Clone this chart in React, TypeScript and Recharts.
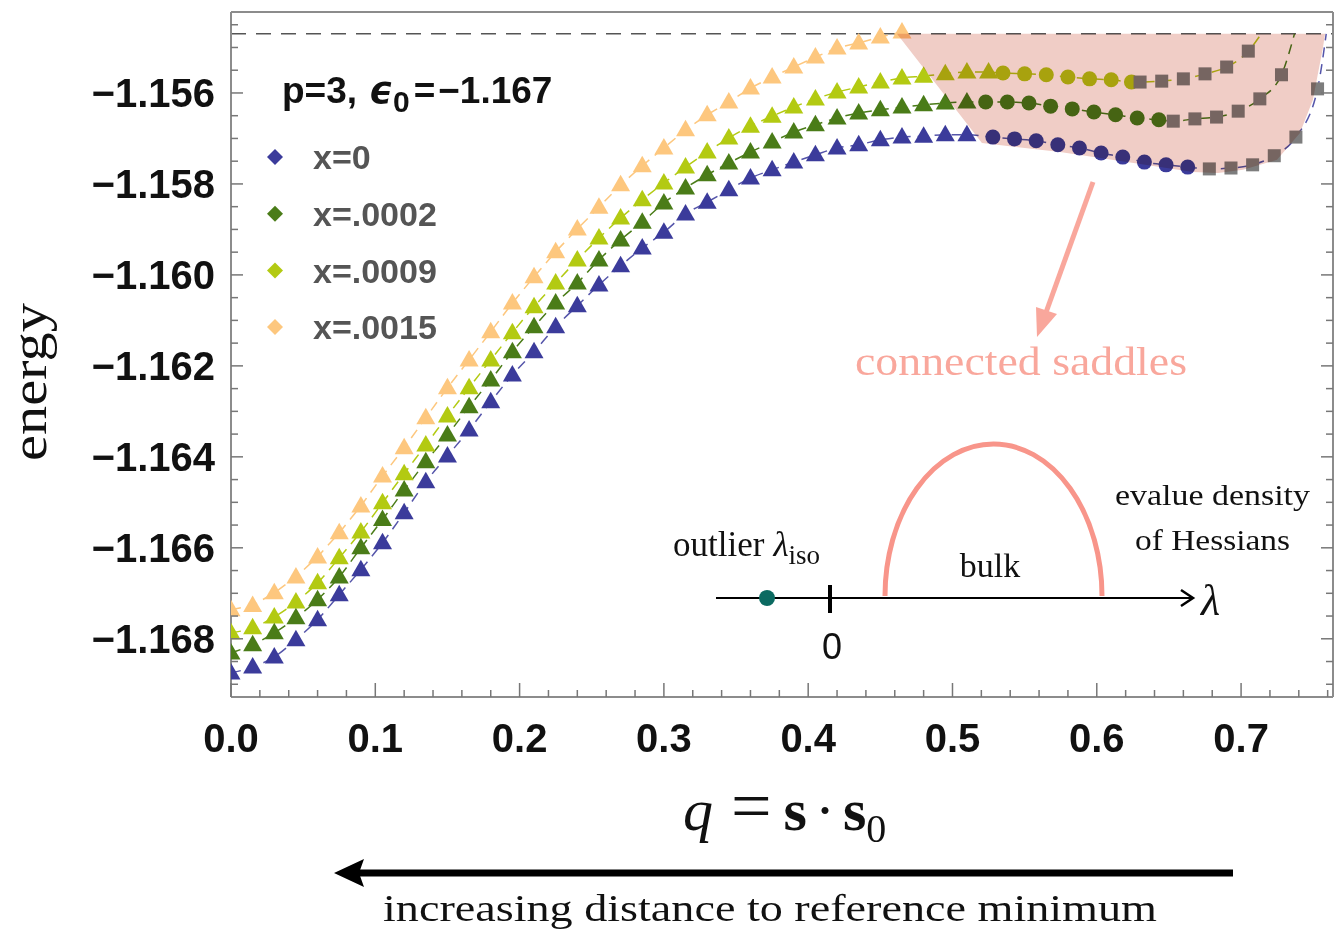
import React from 'react';
import { ComposedChart, Line, Scatter, Area, XAxis, YAxis, ReferenceLine } from 'recharts';

const W = 1335;
const H = 929;
// plot frame, page pixels
const PL = 231;
const PR = 1333;
const PT = 12;
const PB = 697;

const SANS = '"Liberation Sans", Arial, sans-serif';
const SERIF = '"Liberation Serif", "DejaVu Serif", serif';

const BLUE = '#3b3b9b';
const GREEN = '#4a7c18';
const LIME = '#b3ca12';
const ORANGE = '#fdc77e';
const GREY = '#7d7d7d';
const SHADE = '#f0cdc6';
const PINK = '#f9a79c';

const threshold = -1.1547;

// q of the triangle markers, shared by the four curves
const qGrid = [0, 0.015, 0.03, 0.045, 0.06, 0.075, 0.09, 0.105, 0.12, 0.135, 0.15, 0.165, 0.18, 0.195,
  0.21, 0.225, 0.24, 0.255, 0.27, 0.285, 0.3, 0.315, 0.33, 0.345, 0.36, 0.375, 0.39, 0.405, 0.42,
  0.435, 0.45, 0.465, 0.48, 0.495, 0.51, 0.525];

// x=0
const blueTri = [-1.16875, -1.16862, -1.1684, -1.16802, -1.16758, -1.16703, -1.16648, -1.16589, -1.16523,
  -1.16455, -1.16398, -1.16341, -1.16279, -1.1622, -1.16169, -1.16114, -1.16068, -1.16022, -1.1598,
  -1.15941, -1.15906, -1.15866, -1.1584, -1.15813, -1.15787, -1.15769, -1.15752, -1.15736, -1.15721,
  -1.15714, -1.15703, -1.15697, -1.15695, -1.15692, -1.15692];
const blueCircQ = [0.528, 0.543, 0.558, 0.573, 0.588, 0.603, 0.618, 0.633, 0.648, 0.663];
const blueCirc = [-1.15697, -1.15701, -1.15705, -1.15714, -1.15721, -1.15732, -1.15741, -1.15752, -1.15758, -1.15763];
const blueSqQ = [0.678, 0.693, 0.708, 0.723, 0.738, 0.753];
const blueSq = [-1.15767, -1.15765, -1.15758, -1.15738, -1.15697, -1.15591];
const blueEnd = { q: 0.759, e: -1.1547 };

// x=.0002
const greenTri = [-1.16831, -1.16813, -1.16787, -1.16754, -1.16714, -1.16664, -1.166, -1.16538, -1.16473,
  -1.16411, -1.16352, -1.1629, -1.16231, -1.16169, -1.16114, -1.16062, -1.16018, -1.15967, -1.15923,
  -1.15884, -1.15842, -1.15809, -1.1578, -1.15754, -1.1573, -1.15708, -1.15686, -1.1567, -1.15655,
  -1.15644, -1.15637, -1.15631, -1.15626, -1.15622, -1.1562];
const greenCircQ = [0.523, 0.538, 0.553, 0.568, 0.583, 0.598, 0.613, 0.628, 0.643];
const greenCirc = [-1.1562, -1.1562, -1.15622, -1.15629, -1.15635, -1.15642, -1.15648, -1.15655, -1.15659];
const greenSqQ = [0.653, 0.668, 0.683, 0.698, 0.713, 0.728];
const greenSq = [-1.15662, -1.15657, -1.15653, -1.1564, -1.15613, -1.1556];
const greenEnd = { q: 0.737, e: -1.1547 };

// x=.0009
const limeTri = [-1.16787, -1.16776, -1.16752, -1.16719, -1.16677, -1.16622, -1.16565, -1.16501, -1.16437,
  -1.16374, -1.1631, -1.16248, -1.16187, -1.16127, -1.1607, -1.16018, -1.15967, -1.15919, -1.15875,
  -1.15835, -1.15798, -1.15763, -1.1573, -1.15699, -1.15673, -1.15651, -1.15631, -1.15613, -1.15598,
  -1.15587, -1.15576, -1.15567, -1.15563, -1.15558, -1.15554, -1.15554];
const limeCircQ = [0.535, 0.55, 0.565, 0.58, 0.595, 0.61, 0.624];
const limeCirc = [-1.15556, -1.15558, -1.1556, -1.15565, -1.15569, -1.15571, -1.15576];
const limeSqQ = [0.63, 0.645, 0.66, 0.675, 0.69, 0.705];
const limeSq = [-1.15576, -1.15574, -1.15569, -1.15558, -1.15543, -1.15508];
const limeEnd = { q: 0.714, e: -1.1547 };

// x=.0015
const orangeTri = [-1.16736, -1.16727, -1.16699, -1.16664, -1.1662, -1.16567, -1.16508, -1.16442, -1.1638,
  -1.16314, -1.16248, -1.16187, -1.16125, -1.16062, -1.16004, -1.15949, -1.15899, -1.15851, -1.15802,
  -1.1576, -1.15721, -1.15681, -1.15648, -1.1562, -1.15589, -1.15565, -1.15543, -1.15521, -1.15501,
  -1.1549, -1.15477, -1.15466];

// lower edge of the "connected saddles" region (upper edge is the threshold)
const shadeQ = [0.4615, 0.5204, 0.5745, 0.6209, 0.6667, 0.684, 0.7013, 0.7249, 0.7408, 0.7498, 0.7568, 0.7582];
const shadeLow = [-1.1547, -1.1571, -1.1573, -1.15752, -1.15774, -1.15776, -1.15769, -1.15747, -1.15688,
  -1.15615, -1.15499, -1.1547];

const legendItems = [
  { label: 'x=0', color: BLUE },
  { label: 'x=.0002', color: GREEN },
  { label: 'x=.0009', color: LIME },
  { label: 'x=.0015', color: ORANGE },
];

const yTicks = Array.from({ length: 30 }, (_, i) => +(-1.169 + 0.0005 * i).toFixed(4));
const xTicks = Array.from({ length: 39 }, (_, i) => +(0.02 * i).toFixed(2));
const xTopTicks = Array.from({ length: 16 }, (_, i) => +(0.05 * i).toFixed(2));

const pts = (qs: number[], es: number[]) => es.map((e, i) => ({ q: qs[i], e }));

const blueLine = [...pts(qGrid, blueTri), ...pts(blueCircQ, blueCirc), ...pts(blueSqQ, blueSq), blueEnd];
const greenLine = [...pts(qGrid, greenTri), ...pts(greenCircQ, greenCirc), ...pts(greenSqQ, greenSq), greenEnd];
const limeLine = [...pts(qGrid, limeTri), ...pts(limeCircQ, limeCirc), ...pts(limeSqQ, limeSq), limeEnd];
const orangeLine = pts(qGrid, orangeTri);
const shadeData = shadeQ.map((q, i) => ({ q, range: [shadeLow[i], threshold] }));

const near = (v: number, step: number) => Math.abs(v / step - Math.round(v / step)) < 1e-3;

const triShape = (color: string) => (p: any) => (
  <polygon points={`${p.cx},${p.cy - 10} ${p.cx + 9.5},${p.cy + 6.5} ${p.cx - 9.5},${p.cy + 6.5}`} fill={color} />
);
const circShape = (color: string) => (p: any) => <circle cx={p.cx} cy={p.cy} r={7.5} fill={color} />;
const sqShape = (p: any) => <rect x={p.cx - 6.5} y={p.cy - 6.5} width={13} height={13} fill={GREY} />;

function LeftTick({ y, payload }: any) {
  const v = payload.value;
  const major = near(v, 0.002);
  return (
    <g>
      <line x1={PL} x2={PL + (major ? 12 : 7)} y1={y} y2={y} stroke="#777" strokeWidth={1.5} />
      {major && (
        <text x={215} y={y} dy="0.36em" textAnchor="end" fontFamily={SANS} fontWeight="bold" fontSize={40} fill="#111">
          {'\u2212' + Math.abs(v).toFixed(3)}
        </text>
      )}
    </g>
  );
}

function RightTick({ y, payload }: any) {
  const major = near(payload.value, 0.002);
  return <line x1={PR} x2={PR - (major ? 12 : 7)} y1={y} y2={y} stroke="#777" strokeWidth={1.5} />;
}

function BottomTick({ x, payload }: any) {
  const v = payload.value;
  const major = near(v, 0.1);
  return (
    <g>
      <line x1={x} x2={x} y1={PB} y2={PB - (major ? 14 : 7)} stroke="#777" strokeWidth={1.5} />
      {major && (
        <text x={x} y={752} textAnchor="middle" fontFamily={SANS} fontWeight="bold" fontSize={40} fill="#111">
          {v.toFixed(1)}
        </text>
      )}
    </g>
  );
}

function TopTick({ x }: any) {
  return <line x1={x} x2={x} y1={PT} y2={PT + 10} stroke="#777" strokeWidth={1.5} />;
}

function Annotations() {
  return (
    <svg width={W} height={H} style={{ position: 'absolute', left: 0, top: 0, pointerEvents: 'none' }}>
      {/* legend */}
      <text x={282} y={103} fontFamily={SANS} fontWeight="bold" fontSize={37} fill="#111">
        p=3,
        <tspan dx={12} fontStyle="italic" fontFamily='"DejaVu Sans", sans-serif'>ϵ</tspan>
        <tspan dy={9} fontSize={30}>0</tspan>
        <tspan dy={-9} dx={4}>=</tspan>
        <tspan dx={3}>{'\u22121.167'}</tspan>
      </text>
      {legendItems.map((it, i) => {
        const y = 157 + i * 56.7;
        return (
          <g key={it.label}>
            <polygon points={`275,${y - 8} 283,${y} 275,${y + 8} 267,${y}`} fill={it.color} />
            <text x={313} y={y} dy="0.36em" fontFamily={SANS} fontWeight="bold" fontSize={34} fill="#555">
              {it.label}
            </text>
          </g>
        );
      })}

      {/* connected saddles */}
      <line x1={1093} y1={182} x2={1044} y2={318} stroke={PINK} strokeWidth={5} />
      <polygon points="1037,337 1057,314 1036,307" fill={PINK} />
      <text x={855} y={375} fontFamily={SERIF} fontSize={40} fill={PINK} textLength={332} lengthAdjust="spacingAndGlyphs">
        connected saddles
      </text>

      {/* Hessian spectrum sketch */}
      <line x1={716} y1={598} x2={1192} y2={598} stroke="#000" strokeWidth={2} />
      <polyline points="1181,590 1193,598 1181,606" fill="none" stroke="#000" strokeWidth={2.5} />
      <circle cx={767} cy={598} r={8} fill="#0b6a61" />
      <line x1={830} y1={585} x2={830} y2={613} stroke="#000" strokeWidth={4} />
      <text x={832} y={659} textAnchor="middle" fontFamily={SANS} fontSize={36} fill="#111">0</text>
      <path d="M 885 596 A 108.5 152 0 0 1 1102 596" fill="none" stroke="#f8958a" strokeWidth={5} />
      <text x={990} y={577} textAnchor="middle" fontFamily={SERIF} fontSize={34} fill="#111">bulk</text>
      <text x={1201} y={615} fontFamily={SERIF} fontStyle="italic" fontSize={44} fill="#111">λ</text>
      <text x={673} y={556} fontFamily={SERIF} fontSize={35} fill="#111">
        outlier
        <tspan dx={9} fontStyle="italic">λ</tspan>
        <tspan dy={8} fontSize={27}>iso</tspan>
      </text>
      <text x={1115} y={505} fontFamily={SERIF} fontSize={30} fill="#111" textLength={195} lengthAdjust="spacingAndGlyphs">
        evalue density
      </text>
      <text x={1135} y={550} fontFamily={SERIF} fontSize={30} fill="#111" textLength={155} lengthAdjust="spacingAndGlyphs">
        of Hessians
      </text>

      {/* axis titles */}
      <text transform="translate(46,382) rotate(-90)" textAnchor="middle" fontFamily={SERIF} fontSize={50} fill="#111"
        textLength={158} lengthAdjust="spacingAndGlyphs">
        energy
      </text>
      <text x={683} y={830} fontFamily={SERIF} fontSize={60} fill="#111">
        <tspan fontStyle="italic">q</tspan>
        <tspan dx={18} fontSize={72}>=</tspan>
        <tspan dx={12} fontWeight="bold">s</tspan>
        <tspan dx={8}>·</tspan>
        <tspan dx={8} fontWeight="bold">s</tspan>
        <tspan fontSize={40} dy={12}>0</tspan>
      </text>

      {/* direction arrow */}
      <line x1={1233} y1={873} x2={358} y2={873} stroke="#000" strokeWidth={7} />
      <polygon points="334,873 364,859 359,873 364,887" fill="#000" />
      <text x={383} y={921} fontFamily={SERIF} fontSize={38} fill="#111" textLength={774} lengthAdjust="spacingAndGlyphs">
        increasing distance to reference minimum
      </text>
    </svg>
  );
}

export default function App() {
  return (
    <div style={{ position: 'absolute', left: 0, top: 0, width: W, height: H, background: '#fff' }}>
      <style>{'.shade-area, .shade-area path { mix-blend-mode: multiply; }'}</style>
      <ComposedChart width={W} height={H} margin={{ top: PT - 1, right: W - PR - 1, left: PL - 100, bottom: H - PB - 60 }}>
        <XAxis dataKey="q" type="number" domain={[0, 0.7637]} allowDataOverflow ticks={xTicks} interval={0}
          tickLine={false} tick={(p: any) => <BottomTick {...p} />} height={60}
          axisLine={{ stroke: '#8c8c8c', strokeWidth: 2 }} />
        <XAxis xAxisId="top" orientation="top" type="number" domain={[0, 0.7637]} allowDataOverflow ticks={xTopTicks}
          interval={0} tickLine={false} tick={(p: any) => <TopTick {...p} />} height={1}
          axisLine={{ stroke: '#8c8c8c', strokeWidth: 2 }} />
        <YAxis dataKey="e" type="number" domain={[-1.16928, -1.15422]} allowDataOverflow ticks={yTicks} interval={0}
          tickLine={false} tick={(p: any) => <LeftTick {...p} />} width={100}
          axisLine={{ stroke: '#8c8c8c', strokeWidth: 2 }} />
        <YAxis yAxisId="right" orientation="right" type="number" domain={[-1.16928, -1.15422]} allowDataOverflow
          ticks={yTicks} interval={0} tickLine={false} tick={(p: any) => <RightTick {...p} />} width={1}
          axisLine={{ stroke: '#8c8c8c', strokeWidth: 2 }} />

        <ReferenceLine y={threshold} stroke="#555" strokeWidth={1.5} strokeDasharray="15 10" />

        <Line data={orangeLine} dataKey="e" type="linear" stroke={ORANGE} strokeWidth={1.5} strokeDasharray="10 7" dot={false} isAnimationActive={false} />
        <Line data={limeLine} dataKey="e" type="monotone" stroke={LIME} strokeWidth={1.5} strokeDasharray="10 7" dot={false} isAnimationActive={false} />
        <Line data={greenLine} dataKey="e" type="monotone" stroke={GREEN} strokeWidth={1.5} strokeDasharray="10 7" dot={false} isAnimationActive={false} />
        <Line data={blueLine} dataKey="e" type="monotone" stroke="#5555aa" strokeWidth={1.5} strokeDasharray="10 7" dot={false} isAnimationActive={false} />

        <Scatter data={pts(qGrid, orangeTri)} fill={ORANGE} shape={triShape(ORANGE)} isAnimationActive={false} />
        <Scatter data={pts(qGrid, limeTri)} fill={LIME} shape={triShape(LIME)} isAnimationActive={false} />
        <Scatter data={pts(qGrid, greenTri)} fill={GREEN} shape={triShape(GREEN)} isAnimationActive={false} />
        <Scatter data={pts(qGrid, blueTri)} fill={BLUE} shape={triShape(BLUE)} isAnimationActive={false} />
        <Scatter data={pts(limeCircQ, limeCirc)} fill={LIME} shape={circShape(LIME)} isAnimationActive={false} />
        <Scatter data={pts(greenCircQ, greenCirc)} fill={GREEN} shape={circShape(GREEN)} isAnimationActive={false} />
        <Scatter data={pts(blueCircQ, blueCirc)} fill={BLUE} shape={circShape(BLUE)} isAnimationActive={false} />
        <Scatter data={pts(limeSqQ, limeSq)} fill={GREY} shape={sqShape} isAnimationActive={false} />
        <Scatter data={pts(greenSqQ, greenSq)} fill={GREY} shape={sqShape} isAnimationActive={false} />
        <Scatter data={pts(blueSqQ, blueSq)} fill={GREY} shape={sqShape} isAnimationActive={false} />

        <Area data={shadeData} dataKey="range" type="linear" className="shade-area" fill={SHADE} fillOpacity={1}
          stroke="none" activeDot={false} isAnimationActive={false} {...({ zIndex: 700 } as any)} />
      </ComposedChart>
      <Annotations />
    </div>
  );
}
